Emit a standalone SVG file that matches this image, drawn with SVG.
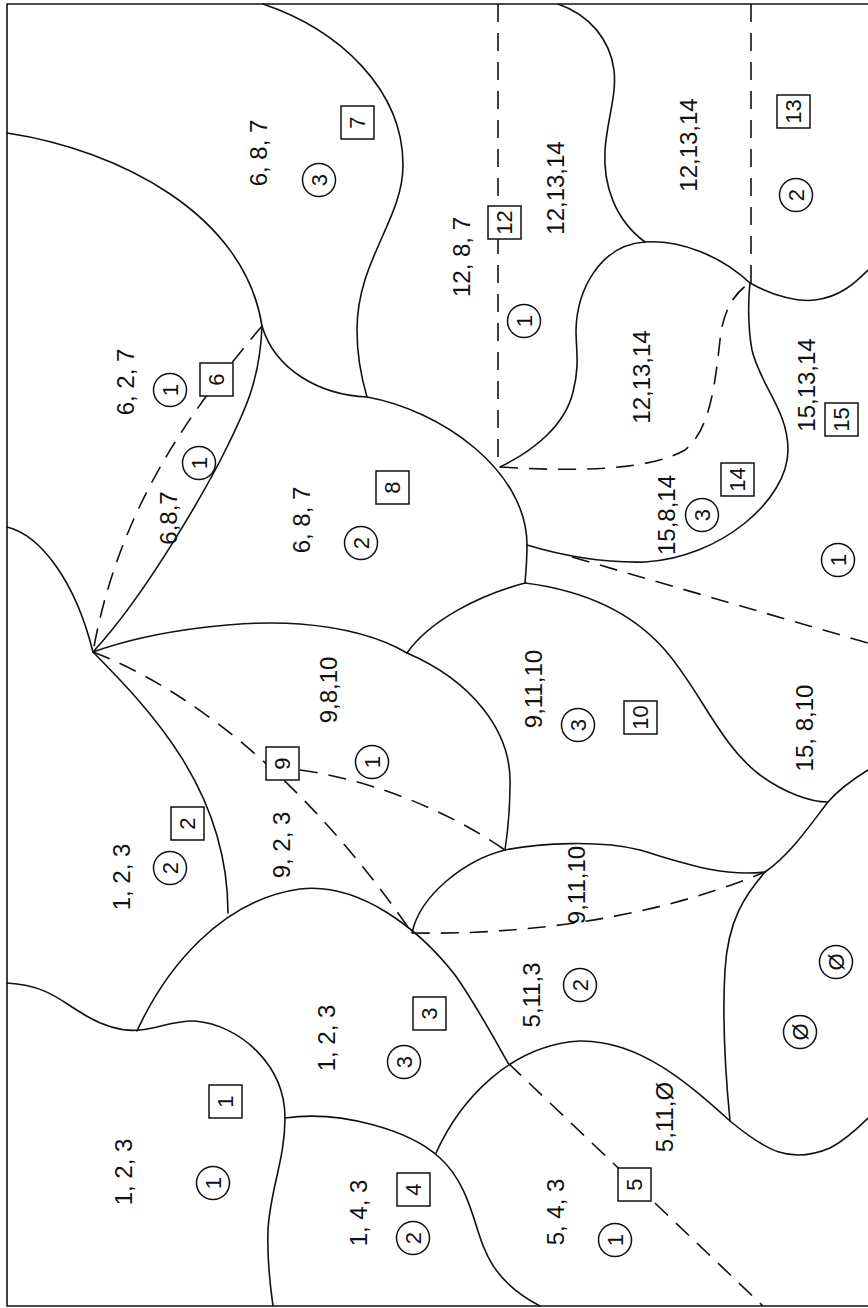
<svg xmlns="http://www.w3.org/2000/svg" width="868" height="1308" viewBox="0 0 868 1308">
<style>
.s{fill:none;stroke:#111;stroke-width:1.6;stroke-linecap:round;stroke-linejoin:round}
.d{fill:none;stroke:#111;stroke-width:1.6;stroke-dasharray:18 11}
.t{font-family:"Liberation Sans",Arial,sans-serif;font-size:24px;fill:#111;text-anchor:middle;dominant-baseline:central}
.n{font-family:"Liberation Sans",Arial,sans-serif;font-size:22px;fill:#111;text-anchor:middle;dominant-baseline:central}
.c{fill:#fff;stroke:#111;stroke-width:1.5}
</style>
<rect width="868" height="1308" fill="#fff"/>
<g id="frame">
<path class="s" d="M7,4 H868 M7,4 V1306 H868"/>
</g>
<g id="boundaries">
<path class="s" d="M7,133 C120,150 245,215 262,326"/>
<path class="s" d="M263,4 C340,30 403,90 403,165 C403,220 357,260 357,330 C357,360 362,380 367,397"/>
<path class="s" d="M262,326 C260,380 245,410 228,445 S150,590 93,652"/>
<path class="s" d="M262,326 C275,370 320,395 367,397"/>
<path class="s" d="M367,397 C440,410 527,470 527,545 C527,560 526,572 525,583"/>
<path class="s" d="M527,545 C560,555 600,563 645,562 C720,558 788,500 788,450 C788,410 760,385 752,350 C748,330 748,300 750,283"/>
<path class="s" d="M750,283 C720,255 680,240 645,242 C600,245 577,290 576,330 C576,350 580,365 573,392 C565,425 535,450 500,467"/>
<path class="s" d="M645,242 C615,220 603,185 605,150 C607,120 617,95 614,70 C610,40 590,15 558,4"/>
<path class="s" d="M750,283 C775,297 800,302 815,300 C840,297 855,283 868,270"/>
<path class="s" d="M525,583 C580,590 630,610 665,650 C700,690 720,745 760,775 C785,793 810,802 828,802"/>
<path class="s" d="M525,583 C480,595 430,620 407,653"/>
<path class="s" d="M93,652 C160,628 250,620 300,624 C350,628 385,640 407,653"/>
<path class="s" d="M407,653 C470,680 512,730 510,785 C510,810 508,830 505,850"/>
<path class="s" d="M505,850 C465,860 420,895 412,933"/>
<path class="s" d="M505,850 C540,843 600,840 640,850 C680,862 720,877 765,872"/>
<path class="s" d="M765,872 C790,855 810,825 828,802 C840,788 855,778 868,770"/>
<path class="s" d="M765,872 C745,895 728,920 725,970 C722,1020 726,1080 730,1121"/>
<path class="s" d="M436,1153 C460,1100 510,1045 580,1041 C640,1040 690,1085 730,1121 C765,1150 790,1165 830,1148 C845,1140 858,1128 868,1118"/>
<path class="s" d="M137,1031 C165,970 220,900 300,889 C360,882 420,930 455,975 C475,1003 495,1040 508,1063"/>
<path class="s" d="M93,652 C150,710 228,790 228,913"/>
<path class="s" d="M7,527 C40,535 75,580 93,652"/>
<path class="s" d="M7,983 C45,985 60,1000 80,1012 C100,1025 120,1032 140,1030 C160,1028 175,1020 195,1021 C240,1025 285,1065 285,1118 C285,1160 270,1190 268,1230 C267,1260 270,1285 273,1306"/>
<path class="s" d="M285,1118 C340,1110 410,1130 440,1158 C470,1185 475,1230 485,1250 C495,1275 515,1293 540,1306"/>
</g>
<g id="connectors">
<path class="d" d="M262,326 C200,400 120,500 93,652"/>
<path class="d" d="M498,4 V467"/>
<path class="d" d="M751,4 V283"/>
<path class="d" d="M500,467 C580,472 650,470 685,450 C710,430 715,385 720,340 C723,310 735,292 750,283"/>
<path class="d" d="M572,557 L868,643"/>
<path class="d" d="M93,652 C180,685 300,770 412,933"/>
<path class="d" d="M300,770 C360,778 440,805 505,850"/>
<path class="d" d="M412,933 C520,935 650,920 765,872"/>
<path class="d" d="M508,1063 L763,1306"/>
</g>
<g id="r7">
<text class="t" transform="translate(258.5,153) rotate(-90)">6, 8, 7</text>
<circle class="c" cx="319" cy="180" r="16.5"/><text class="n" transform="translate(319,180) rotate(-90)">3</text>
<rect class="c" x="341" y="106" width="33" height="33"/><text class="n" transform="translate(357.5,122.5) rotate(-90)">7</text>
</g>
<g id="r12">
<text class="t" transform="translate(461.5,257) rotate(-90)">12, 8, 7</text>
<rect class="c" x="488" y="206" width="33" height="33"/><text class="n" transform="translate(504.5,222.5) rotate(-90)">12</text>
<text class="t" transform="translate(555.5,188) rotate(-90)">12,13,14</text>
<circle class="c" cx="524" cy="321" r="16.5"/><text class="n" transform="translate(524,321) rotate(-90)">1</text>
</g>
<g id="r13">
<text class="t" transform="translate(688,145) rotate(-90)">12,13,14</text>
<rect class="c" x="777" y="95" width="33" height="33"/><text class="n" transform="translate(793.5,111.5) rotate(-90)">13</text>
<circle class="c" cx="796" cy="195" r="16.5"/><text class="n" transform="translate(796,195) rotate(-90)">2</text>
</g>
<g id="r6">
<text class="t" transform="translate(125.5,382) rotate(-90)">6, 2, 7</text>
<circle class="c" cx="170" cy="390" r="16.5"/><text class="n" transform="translate(170,390) rotate(-90)">1</text>
<rect class="c" x="200" y="363" width="33" height="33"/><text class="n" transform="translate(216.5,379.5) rotate(-90)">6</text>
<text class="t" transform="translate(168.5,518) rotate(-90)">6,8,7</text>
<circle class="c" cx="199" cy="463" r="16.5"/><text class="n" transform="translate(199,463) rotate(-90)">1</text>
</g>
<g id="r8">
<text class="t" transform="translate(301.5,520) rotate(-90)">6, 8, 7</text>
<circle class="c" cx="361" cy="543" r="16.5"/><text class="n" transform="translate(361,543) rotate(-90)">2</text>
<rect class="c" x="376" y="471" width="33" height="33"/><text class="n" transform="translate(392.5,487.5) rotate(-90)">8</text>
</g>
<g id="r14">
<text class="t" transform="translate(641.5,377) rotate(-90)">12,13,14</text>
<text class="t" transform="translate(666.5,515) rotate(-90)">15,8,14</text>
<circle class="c" cx="702" cy="515" r="16.5"/><text class="n" transform="translate(702,515) rotate(-90)">3</text>
<rect class="c" x="721" y="463" width="33" height="33"/><text class="n" transform="translate(737.5,479.5) rotate(-90)">14</text>
</g>
<g id="r15">
<text class="t" transform="translate(806.5,385) rotate(-90)">15,13,14</text>
<rect class="c" x="825" y="403" width="33" height="33"/><text class="n" transform="translate(841.5,419.5) rotate(-90)">15</text>
<circle class="c" cx="838" cy="560" r="16.5"/><text class="n" transform="translate(838,560) rotate(-90)">1</text>
<text class="t" transform="translate(804.5,728) rotate(-90)">15, 8,10</text>
</g>
<g id="r9">
<text class="t" transform="translate(328.5,690) rotate(-90)">9,8,10</text>
<circle class="c" cx="372" cy="762" r="16.5"/><text class="n" transform="translate(372,762) rotate(-90)">1</text>
<rect class="c" x="266" y="747" width="33" height="33"/><text class="n" transform="translate(282.5,763.5) rotate(-90)">9</text>
<text class="t" transform="translate(281.5,845) rotate(-90)">9, 2, 3</text>
</g>
<g id="r10">
<text class="t" transform="translate(533.5,689) rotate(-90)">9,11,10</text>
<circle class="c" cx="578" cy="725" r="16.5"/><text class="n" transform="translate(578,725) rotate(-90)">3</text>
<rect class="c" x="624" y="701" width="33" height="33"/><text class="n" transform="translate(640.5,717.5) rotate(-90)">10</text>
<text class="t" transform="translate(576.5,885) rotate(-90)">9,11,10</text>
</g>
<g id="r2">
<text class="t" transform="translate(121.5,877) rotate(-90)">1, 2, 3</text>
<circle class="c" cx="170" cy="868" r="16.5"/><text class="n" transform="translate(170,868) rotate(-90)">2</text>
<rect class="c" x="171" y="807" width="33" height="33"/><text class="n" transform="translate(187.5,823.5) rotate(-90)">2</text>
</g>
<g id="r11">
<text class="t" transform="translate(531.5,995) rotate(-90)">5,11,3</text>
<circle class="c" cx="580" cy="985" r="16.5"/><text class="n" transform="translate(580,985) rotate(-90)">2</text>
</g>
<g id="r0">
<circle class="c" cx="836" cy="962" r="16.5"/><text class="n" transform="translate(836,962) rotate(-90)">Ø</text>
<circle class="c" cx="800" cy="1032" r="16.5"/><text class="n" transform="translate(800,1032) rotate(-90)">Ø</text>
</g>
<g id="r3">
<text class="t" transform="translate(326.5,1038) rotate(-90)">1, 2, 3</text>
<circle class="c" cx="404" cy="1062" r="16.5"/><text class="n" transform="translate(404,1062) rotate(-90)">3</text>
<rect class="c" x="413" y="997" width="33" height="33"/><text class="n" transform="translate(429.5,1013.5) rotate(-90)">3</text>
</g>
<g id="r1">
<text class="t" transform="translate(123.5,1172) rotate(-90)">1, 2, 3</text>
<circle class="c" cx="213" cy="1183" r="16.5"/><text class="n" transform="translate(213,1183) rotate(-90)">1</text>
<rect class="c" x="209" y="1085" width="33" height="33"/><text class="n" transform="translate(225.5,1101.5) rotate(-90)">1</text>
</g>
<g id="r4">
<text class="t" transform="translate(358.5,1213) rotate(-90)">1, 4, 3</text>
<circle class="c" cx="413" cy="1238" r="16.5"/><text class="n" transform="translate(413,1238) rotate(-90)">2</text>
<rect class="c" x="397" y="1173" width="33" height="33"/><text class="n" transform="translate(413.5,1189.5) rotate(-90)">4</text>
</g>
<g id="r5">
<text class="t" transform="translate(555.5,1212) rotate(-90)">5, 4, 3</text>
<circle class="c" cx="615" cy="1240" r="16.5"/><text class="n" transform="translate(615,1240) rotate(-90)">1</text>
<rect class="c" x="618" y="1168" width="33" height="33"/><text class="n" transform="translate(634.5,1184.5) rotate(-90)">5</text>
<text class="t" transform="translate(664.5,1117) rotate(-90)">5,11,Ø</text>
</g>
</svg>
